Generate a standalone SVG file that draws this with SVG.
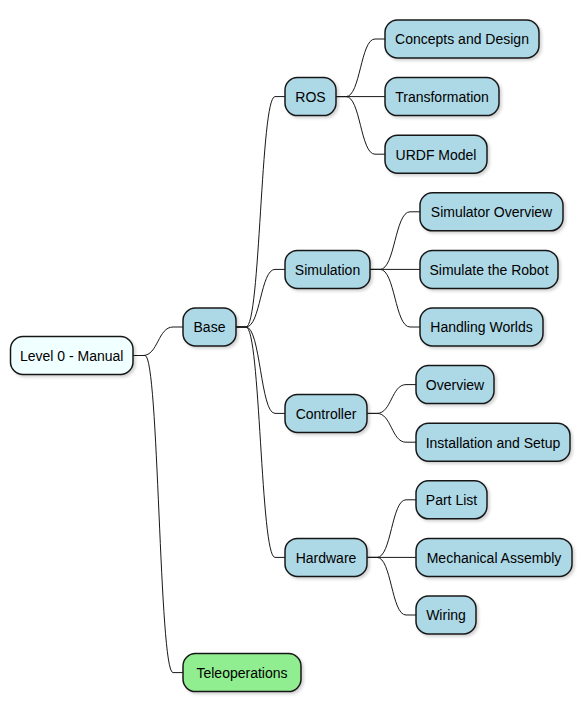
<svg xmlns="http://www.w3.org/2000/svg" width="582" height="712" viewBox="0 0 582 712">
<defs>
<filter id="sh" x="-10%" y="-20%" width="130%" height="160%">
<feGaussianBlur in="SourceAlpha" stdDeviation="1.5"/>
<feOffset dx="2" dy="2" result="b"/>
<feComponentTransfer><feFuncA type="linear" slope="0.18"/></feComponentTransfer>
<feMerge><feMergeNode/><feMergeNode in="SourceGraphic"/></feMerge>
</filter>
<style>
.n rect{stroke:#181818;stroke-width:1.5;filter:url(#sh)}
.b rect{fill:#ADD8E6}
.r rect{fill:#F0FFFF}
.g rect{fill:#90EE90}
.n text{font-family:"Liberation Sans",Arial,sans-serif;font-size:14px;fill:#000;text-anchor:middle}
.c path{fill:none;stroke:#181818;stroke-width:1}
</style>
</defs>
<rect width="582" height="712" fill="#fff"/>
<g class="c" id="connectors">
<path d="M133,355.5 L143,355.5 C158,355.5 158,327 173,327 L183,327"/>
<path d="M133,355.5 L145,355.5 C159,355.5 159,672.6 173,672.6 L183,672.6"/>
<path d="M236,327 L246,327 C260.5,327 260.5,96.6 275,96.6 L285,96.6"/>
<path d="M236,327 L246,327 C260.5,327 260.5,269.4 275,269.4 L285,269.4"/>
<path d="M236,327 L246,327 C260.5,327 260.5,413.4 275,413.4 L285,413.4"/>
<path d="M236,327 L246,327 C260.5,327 260.5,557.4 275,557.4 L285,557.4"/>
<path d="M336,96.6 L346,96.6 C360.5,96.6 360.5,39 375,39 L385,39"/>
<path d="M336,96.6 L385,96.6"/>
<path d="M336,96.6 L346,96.6 C360.5,96.6 360.5,154.2 375,154.2 L385,154.2"/>
<path d="M370,269.4 L380,269.4 C395,269.4 395,211.8 410,211.8 L420,211.8"/>
<path d="M370,269.4 L420,269.4"/>
<path d="M370,269.4 L380,269.4 C395,269.4 395,327 410,327 L420,327"/>
<path d="M367,413.4 L377,413.4 C391.5,413.4 391.5,384.6 406,384.6 L416,384.6"/>
<path d="M367,413.4 L377,413.4 C391.5,413.4 391.5,442.2 406,442.2 L416,442.2"/>
<path d="M367,557.4 L377,557.4 C391.5,557.4 391.5,499.8 406,499.8 L416,499.8"/>
<path d="M367,557.4 L416,557.4"/>
<path d="M367,557.4 L377,557.4 C391.5,557.4 391.5,615 406,615 L416,615"/>
</g>
<g id="root" class="n r"><rect x="10.5" y="336.5" width="122.5" height="38" rx="12.5"/><text x="71.7" y="360.8">Level 0 - Manual</text></g>
<g id="base" class="n b"><rect x="183" y="308" width="53" height="38" rx="12.5"/><text x="209.5" y="332.3">Base</text></g>
<g id="teleoperations" class="n g"><rect x="183" y="653.6" width="118" height="38" rx="12.5"/><text x="242" y="677.9">Teleoperations</text></g>
<g id="ros" class="n b"><rect x="285" y="77.6" width="51" height="38" rx="12.5"/><text x="310.5" y="101.9">ROS</text></g>
<g id="simulation" class="n b"><rect x="285" y="250.4" width="85" height="38" rx="12.5"/><text x="327.5" y="274.7">Simulation</text></g>
<g id="controller" class="n b"><rect x="285" y="394.4" width="82" height="38" rx="12.5"/><text x="326" y="418.7">Controller</text></g>
<g id="hardware" class="n b"><rect x="285" y="538.4" width="82" height="38" rx="12.5"/><text x="326" y="562.7">Hardware</text></g>
<g id="concepts" class="n b"><rect x="385" y="20" width="154" height="38" rx="12.5"/><text x="462" y="44.3">Concepts and Design</text></g>
<g id="transformation" class="n b"><rect x="385" y="77.6" width="114" height="38" rx="12.5"/><text x="442" y="101.9">Transformation</text></g>
<g id="urdf" class="n b"><rect x="385" y="135.2" width="102" height="38" rx="12.5"/><text x="436" y="159.5">URDF Model</text></g>
<g id="simoverview" class="n b"><rect x="420" y="192.8" width="143" height="38" rx="12.5"/><text x="491.5" y="217.1">Simulator Overview</text></g>
<g id="simrobot" class="n b"><rect x="420" y="250.4" width="138" height="38" rx="12.5"/><text x="489" y="274.7">Simulate the Robot</text></g>
<g id="worlds" class="n b"><rect x="420" y="308" width="123" height="38" rx="12.5"/><text x="481.5" y="332.3">Handling Worlds</text></g>
<g id="overview" class="n b"><rect x="416" y="365.6" width="78" height="38" rx="12.5"/><text x="455" y="389.9">Overview</text></g>
<g id="installation" class="n b"><rect x="416" y="423.2" width="154" height="38" rx="12.5"/><text x="493" y="447.5">Installation and Setup</text></g>
<g id="partlist" class="n b"><rect x="416" y="480.8" width="71" height="38" rx="12.5"/><text x="451.5" y="505.1">Part List</text></g>
<g id="mechanical" class="n b"><rect x="416" y="538.4" width="156" height="38" rx="12.5"/><text x="494" y="562.7">Mechanical Assembly</text></g>
<g id="wiring" class="n b"><rect x="416" y="596" width="60" height="38" rx="12.5"/><text x="446" y="620.3">Wiring</text></g>
</svg>
